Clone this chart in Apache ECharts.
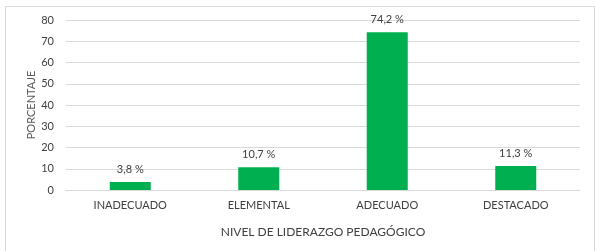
<!DOCTYPE html>
<html>
<head>
<meta charset="utf-8">
<script src="https://cdn.jsdelivr.net/npm/echarts@6/dist/echarts.min.js"></script>
<style>
  html, body { margin: 0; padding: 0; background: #fff; }
  #frame { position: absolute; left: 5px; top: 6px; width: 588px; height: 260px; border: 1px solid #d9d9d9; }
  #main { position: absolute; left: 0; top: 0; width: 597px; height: 251px; }
</style>
</head>
<body>
<div id="frame"></div>
<div id="main"></div>
<script>
var categories = ["INADECUADO", "ELEMENTAL", "ADECUADO", "DESTACADO"];
var values = [3.8, 10.7, 74.2, 11.3];
var yTicks = [0, 10, 20, 30, 40, 50, 60, 70, 80];

window.onload = function () {
    var myChart = echarts.init(document.getElementById('main'));
    var font = 'Lato, "Open Sans", sans-serif';
    var option = {
        animation: false,
        textStyle: { fontFamily: font },
        grid: { left: 66, right: 17, top: 20, bottom: 61 },
        xAxis: {
            type: 'category',
            data: categories,
            name: 'NIVEL DE LIDERAZGO PEDAGÓGICO',
            nameLocation: 'middle',
            nameGap: 36,
            nameMoveOverlap: false,
            nameTextStyle: { color: '#404040', fontSize: 12, fontFamily: font },
            axisLine: { show: true, lineStyle: { color: '#d9d9d9' } },
            axisTick: { show: false },
            axisLabel: { color: '#404040', fontSize: 11, margin: 10, fontFamily: font }
        },
        yAxis: {
            type: 'value',
            min: yTicks[0],
            max: yTicks[yTicks.length - 1],
            interval: 10,
            name: 'PORCENTAJE',
            nameLocation: 'middle',
            nameGap: 29,
            nameMoveOverlap: false,
            nameTextStyle: { color: '#595959', fontSize: 11, fontFamily: font },
            axisLine: { show: false },
            axisTick: { show: false },
            axisLabel: { color: '#404040', fontSize: 11, margin: 12, fontFamily: font },
            splitLine: { lineStyle: { color: '#d9d9d9' } }
        },
        series: [{
            type: 'bar',
            data: values,
            barWidth: 41,
            itemStyle: { color: '#00b050' },
            label: {
                show: true,
                position: 'top',
                distance: 7,
                color: '#404040',
                fontSize: 11,
                fontFamily: font,
                formatter: function (p) { return p.value.toFixed(1).replace('.', ',') + ' %'; }
            }
        }]
    };
    myChart.setOption(option);
};
</script>
</body>
</html>
